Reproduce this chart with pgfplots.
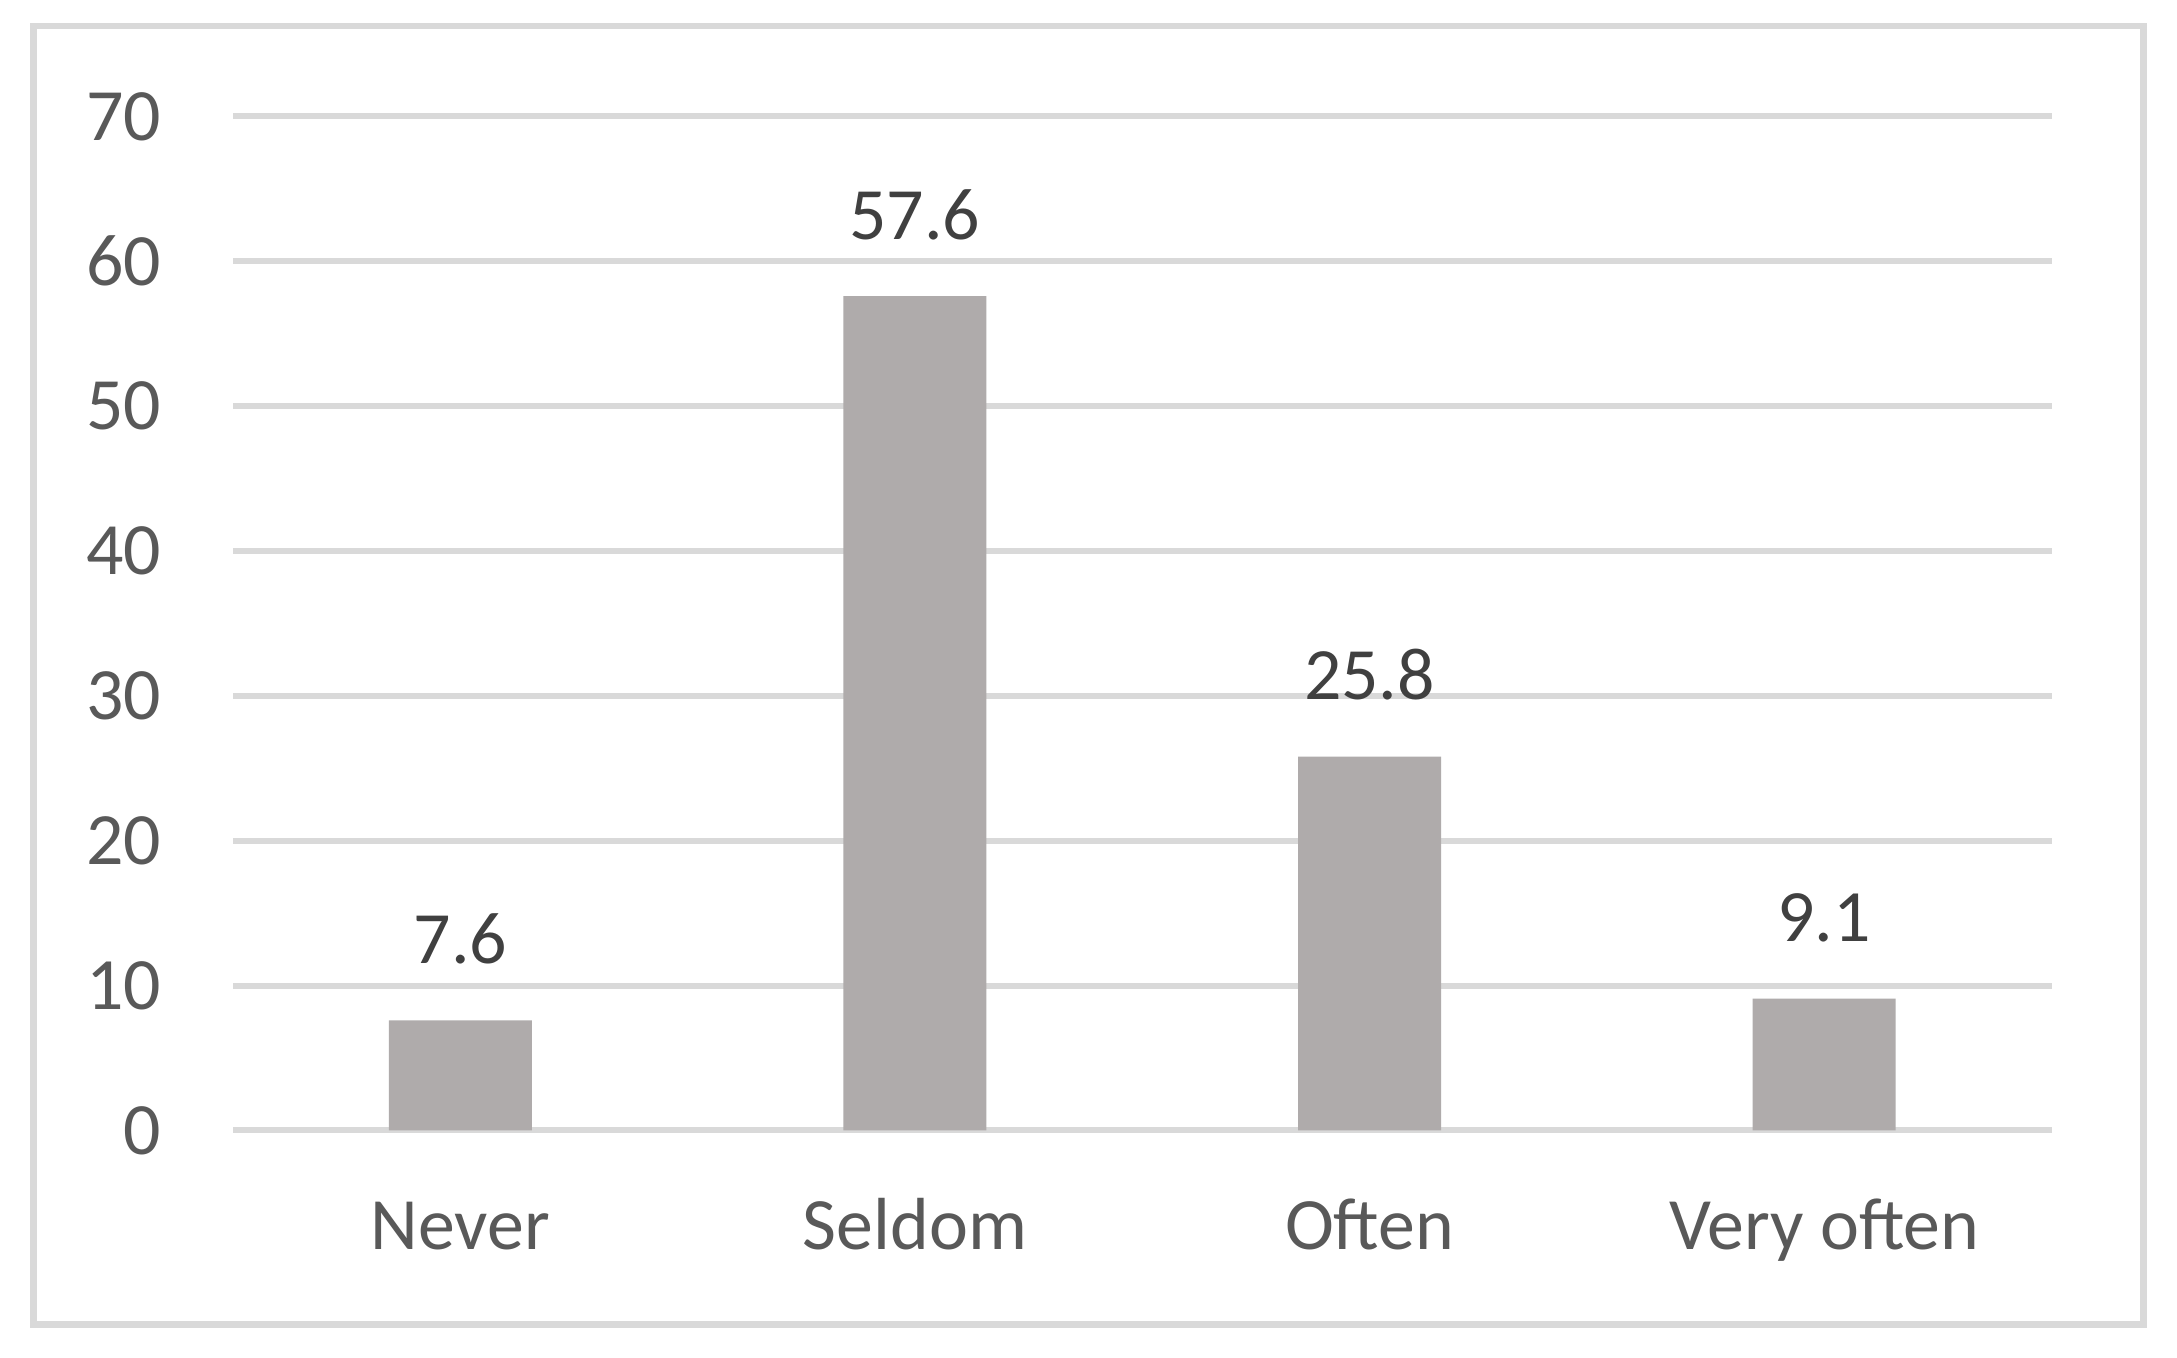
\documentclass[border=0pt]{standalone}
\usepackage{fontspec}
\setmainfont{Carlito}
\usepackage{pgfplots}
\pgfplotsset{compat=1.18}
\definecolor{barfill}{HTML}{AFABAB}
\definecolor{gridc}{HTML}{D9D9D9}
\definecolor{ticktxt}{HTML}{595959}
\definecolor{valtxt}{HTML}{404040}

\begin{document}
\begin{tikzpicture}
\path[use as bounding box, fill=white] (0,0) rectangle (21.77,13.58);
\draw[gridc, line width=0.065cm] (0.333,0.337) rectangle (21.433,13.32);
\begin{axis}[
    at={(2.33cm,2.275cm)}, anchor=south west,
    scale only axis, width=18.185cm, height=10.14cm,
    xmin=-0.5, xmax=3.5, ymin=0, ymax=70,
    axis line style={draw=none},
    major tick length=0pt,
    xtick={0,1,2,3},
    xticklabels={Never,Seldom,Often,Very often},
    ytick={0,10,...,70},
    ymajorgrids,
    grid style={gridc, line width=0.06cm},
    /pgf/number format/assume math mode=true,
    yticklabel style={font=\fontsize{21}{25}\selectfont, text=ticktxt, anchor=east, inner sep=0pt, xshift=-0.71cm},
    xticklabel style={font=\fontsize{21}{25}\selectfont, text=ticktxt, anchor=base, inner sep=0pt, yshift=-1.195cm},
]
\addplot[ybar, bar width=1.43cm, fill=barfill, draw=none,
    nodes near coords,
    nodes near coords style={font=\fontsize{21}{25}\selectfont, text=valtxt, anchor=base, yshift=0.57cm}]
    coordinates {(0,7.6) (1,57.6) (2,25.8) (3,9.1)};
\end{axis}
\end{tikzpicture}
\end{document}
